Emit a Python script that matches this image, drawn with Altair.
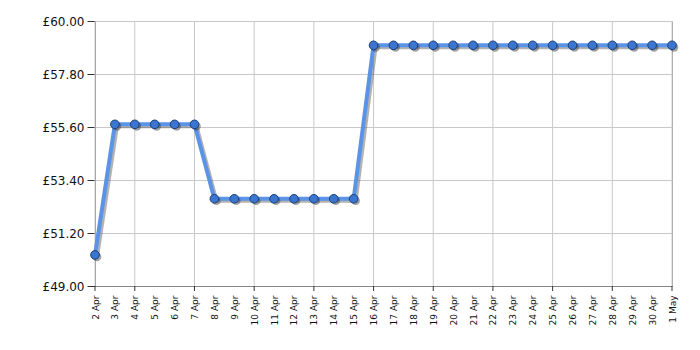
import altair as alt
import pandas as pd

days = ["2 Apr", "3 Apr", "4 Apr", "5 Apr", "6 Apr", "7 Apr", "8 Apr", "9 Apr",
        "10 Apr", "11 Apr", "12 Apr", "13 Apr", "14 Apr", "15 Apr", "16 Apr",
        "17 Apr", "18 Apr", "19 Apr", "20 Apr", "21 Apr", "22 Apr", "23 Apr",
        "24 Apr", "25 Apr", "26 Apr", "27 Apr", "28 Apr", "29 Apr", "30 Apr", "1 May"]
prices = [50.29,
          55.71, 55.71, 55.71, 55.71, 55.71,
          52.62, 52.62, 52.62, 52.62, 52.62, 52.62, 52.62, 52.62,
          58.99, 58.99, 58.99, 58.99, 58.99, 58.99, 58.99, 58.99,
          58.99, 58.99, 58.99, 58.99, 58.99, 58.99, 58.99, 58.99]
grid_days = ["2 Apr", "4 Apr", "7 Apr", "10 Apr", "13 Apr", "16 Apr", "19 Apr",
             "22 Apr", "25 Apr", "28 Apr", "1 May"]
y_ticks = [49.0, 51.2, 53.4, 55.6, 57.8, 60.0]

df = pd.DataFrame({"day": days, "price": prices})
gdf = pd.DataFrame({"day": grid_days})

FONT = "DejaVu Sans"

xscale = alt.Scale(type="point", padding=0, domain=days)
yscale = alt.Scale(domain=[49, 60], nice=False, zero=False)

x_enc = alt.X("day:N", scale=xscale, sort=None, title=None,
              axis=alt.Axis(labelAngle=270, labelFontSize=9, labelFont=FONT,
                            labelColor="#111", ticks=False, grid=False, domain=True,
                            domainColor="#888", labelPadding=9, labelOverlap=False,
                            orient="bottom"))
y_enc = alt.Y("price:Q", scale=yscale, title=None,
              axis=alt.Axis(values=y_ticks, labelExpr="'£' + format(datum.value, '.2f')",
                            labelFontSize=12, labelFont=FONT, labelColor="#111",
                            tickSize=8, tickColor="#333", domainColor="#888",
                            gridColor="#c8c8c8", labelPadding=3))

base = alt.Chart(df)

vgrid = alt.Chart(gdf).mark_rule(color="#c8c8c8", strokeWidth=1).encode(
    x=alt.X("day:N", scale=xscale, sort=None))
vticks = alt.Chart(gdf).mark_rule(color="#333", strokeWidth=1).encode(
    x=alt.X("day:N", scale=xscale, sort=None),
    y=alt.value(265), y2=alt.value(270))

shadow_line = base.mark_line(color="#555", opacity=0.45, strokeWidth=4,
                             xOffset=2, yOffset=2).encode(x=x_enc, y=y_enc)
line = base.mark_line(color="#5b93e6", strokeWidth=4).encode(x=x_enc, y=y_enc)
shadow_pts = base.mark_circle(color="#333", opacity=0.45, size=75,
                              xOffset=2, yOffset=2).encode(x=x_enc, y=y_enc)
pts = base.mark_point(filled=True, fill="#3a76cf", stroke="#1f3f78", strokeWidth=1,
                      size=75, opacity=1, shape="circle").encode(x=x_enc, y=y_enc)

chart = alt.layer(vgrid, vticks, shadow_line, line, shadow_pts, pts).properties(
    width=577, height=265,
    autosize=alt.AutoSizeParams(type="none"),
    padding={"left": 95, "top": 21, "right": 28, "bottom": 64},
    background="white",
).configure_view(stroke="#999", strokeWidth=1)

chart.save("out.html", embed_options={"renderer": "svg", "actions": False})
